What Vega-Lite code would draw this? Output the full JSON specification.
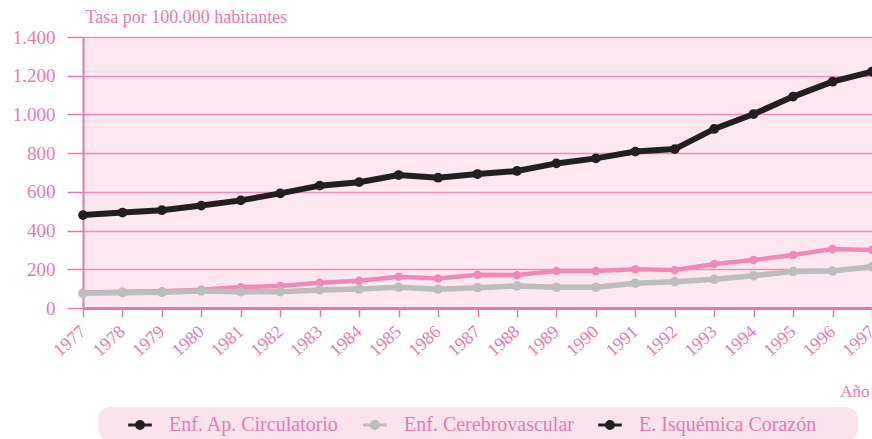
{
  "$schema": "https://vega.github.io/schema/vega-lite/v6.json",
  "autosize": {"type": "none"},
  "padding": {"left": 83, "top": 37, "right": 0, "bottom": 131},
  "width": 789,
  "height": 271,
  "background": "#ffffff",
  "datasets": {
    "tasas": [
      {"anio": 1977, "serie": "Enf. Ap. Circulatorio", "tasa": 480},
      {"anio": 1978, "serie": "Enf. Ap. Circulatorio", "tasa": 493},
      {"anio": 1979, "serie": "Enf. Ap. Circulatorio", "tasa": 505},
      {"anio": 1980, "serie": "Enf. Ap. Circulatorio", "tasa": 529},
      {"anio": 1981, "serie": "Enf. Ap. Circulatorio", "tasa": 556},
      {"anio": 1982, "serie": "Enf. Ap. Circulatorio", "tasa": 592},
      {"anio": 1983, "serie": "Enf. Ap. Circulatorio", "tasa": 632},
      {"anio": 1984, "serie": "Enf. Ap. Circulatorio", "tasa": 650},
      {"anio": 1985, "serie": "Enf. Ap. Circulatorio", "tasa": 687},
      {"anio": 1986, "serie": "Enf. Ap. Circulatorio", "tasa": 673},
      {"anio": 1987, "serie": "Enf. Ap. Circulatorio", "tasa": 692},
      {"anio": 1988, "serie": "Enf. Ap. Circulatorio", "tasa": 708},
      {"anio": 1989, "serie": "Enf. Ap. Circulatorio", "tasa": 747},
      {"anio": 1990, "serie": "Enf. Ap. Circulatorio", "tasa": 773},
      {"anio": 1991, "serie": "Enf. Ap. Circulatorio", "tasa": 808},
      {"anio": 1992, "serie": "Enf. Ap. Circulatorio", "tasa": 821},
      {"anio": 1993, "serie": "Enf. Ap. Circulatorio", "tasa": 925},
      {"anio": 1994, "serie": "Enf. Ap. Circulatorio", "tasa": 1002},
      {"anio": 1995, "serie": "Enf. Ap. Circulatorio", "tasa": 1092},
      {"anio": 1996, "serie": "Enf. Ap. Circulatorio", "tasa": 1169},
      {"anio": 1997, "serie": "Enf. Ap. Circulatorio", "tasa": 1221},
      {"anio": 1977, "serie": "Enf. Cerebrovascular", "tasa": 76},
      {"anio": 1978, "serie": "Enf. Cerebrovascular", "tasa": 79},
      {"anio": 1979, "serie": "Enf. Cerebrovascular", "tasa": 81},
      {"anio": 1980, "serie": "Enf. Cerebrovascular", "tasa": 88},
      {"anio": 1981, "serie": "Enf. Cerebrovascular", "tasa": 84},
      {"anio": 1982, "serie": "Enf. Cerebrovascular", "tasa": 84},
      {"anio": 1983, "serie": "Enf. Cerebrovascular", "tasa": 93},
      {"anio": 1984, "serie": "Enf. Cerebrovascular", "tasa": 98},
      {"anio": 1985, "serie": "Enf. Cerebrovascular", "tasa": 107},
      {"anio": 1986, "serie": "Enf. Cerebrovascular", "tasa": 97},
      {"anio": 1987, "serie": "Enf. Cerebrovascular", "tasa": 105},
      {"anio": 1988, "serie": "Enf. Cerebrovascular", "tasa": 114},
      {"anio": 1989, "serie": "Enf. Cerebrovascular", "tasa": 107},
      {"anio": 1990, "serie": "Enf. Cerebrovascular", "tasa": 107},
      {"anio": 1991, "serie": "Enf. Cerebrovascular", "tasa": 128},
      {"anio": 1992, "serie": "Enf. Cerebrovascular", "tasa": 136},
      {"anio": 1993, "serie": "Enf. Cerebrovascular", "tasa": 148},
      {"anio": 1994, "serie": "Enf. Cerebrovascular", "tasa": 167},
      {"anio": 1995, "serie": "Enf. Cerebrovascular", "tasa": 188},
      {"anio": 1996, "serie": "Enf. Cerebrovascular", "tasa": 191},
      {"anio": 1997, "serie": "Enf. Cerebrovascular", "tasa": 213},
      {"anio": 1977, "serie": "E. Isquémica Corazón", "tasa": 80},
      {"anio": 1978, "serie": "E. Isquémica Corazón", "tasa": 84},
      {"anio": 1979, "serie": "E. Isquémica Corazón", "tasa": 87},
      {"anio": 1980, "serie": "E. Isquémica Corazón", "tasa": 94},
      {"anio": 1981, "serie": "E. Isquémica Corazón", "tasa": 108},
      {"anio": 1982, "serie": "E. Isquémica Corazón", "tasa": 114},
      {"anio": 1983, "serie": "E. Isquémica Corazón", "tasa": 131},
      {"anio": 1984, "serie": "E. Isquémica Corazón", "tasa": 141},
      {"anio": 1985, "serie": "E. Isquémica Corazón", "tasa": 162},
      {"anio": 1986, "serie": "E. Isquémica Corazón", "tasa": 153},
      {"anio": 1987, "serie": "E. Isquémica Corazón", "tasa": 172},
      {"anio": 1988, "serie": "E. Isquémica Corazón", "tasa": 170},
      {"anio": 1989, "serie": "E. Isquémica Corazón", "tasa": 191},
      {"anio": 1990, "serie": "E. Isquémica Corazón", "tasa": 191},
      {"anio": 1991, "serie": "E. Isquémica Corazón", "tasa": 200},
      {"anio": 1992, "serie": "E. Isquémica Corazón", "tasa": 196},
      {"anio": 1993, "serie": "E. Isquémica Corazón", "tasa": 227},
      {"anio": 1994, "serie": "E. Isquémica Corazón", "tasa": 248},
      {"anio": 1995, "serie": "E. Isquémica Corazón", "tasa": 274},
      {"anio": 1996, "serie": "E. Isquémica Corazón", "tasa": 305},
      {"anio": 1997, "serie": "E. Isquémica Corazón", "tasa": 300}
    ]
  },
  "data": {"name": "tasas"},
  "encoding": {
    "x": {
      "field": "anio", "type": "quantitative",
      "scale": {"domain": [1977, 1997], "nice": false, "zero": false},
      "axis": {
        "values": [1977,1978,1979,1980,1981,1982,1983,1984,1985,1986,1987,1988,1989,1990,1991,1992,1993,1994,1995,1996,1997],
        "format": "d",
        "labelAngle": -42,
        "labelAlign": "right",
        "labelBaseline": "middle",
        "labelPadding": 12,
        "labelFontSize": 18,
        "tickSize": 9,
        "domainWidth": 3,
        "grid": false,
        "title": "Año",
        "titleAnchor": "end",
        "titleAlign": "right",
        "titleX": 786,
        "titleY": 75,
        "titleFontSize": 17,
        "titleFontWeight": "normal"
      }
    },
    "y": {
      "field": "tasa", "type": "quantitative",
      "scale": {"domain": [0, 1400], "nice": false},
      "axis": {
        "values": [0, 200, 400, 600, 800, 1000, 1200, 1400],
        "labelExpr": "replace(format(datum.value, ','), ',', '.')",
        "labelFontSize": 19,
        "labelPadding": 12,
        "tickSize": 16,
        "domainWidth": 2,
        "grid": true,
        "gridColor": "#e98fbd",
        "gridWidth": 1.6,
        "title": "Tasa por 100.000 habitantes",
        "titleAngle": 0,
        "titleAlign": "left",
        "titleBaseline": "alphabetic",
        "titleX": 2,
        "titleY": -15,
        "titleFontSize": 18,
        "titleFontWeight": "normal"
      }
    }
  },
  "layer": [
    {
      "transform": [{"filter": "datum.serie == 'E. Isquémica Corazón'"}],
      "mark": {"type": "line", "strokeWidth": 4.5, "color": "#ef89b8"}
    },
    {
      "transform": [{"filter": "datum.serie == 'E. Isquémica Corazón'"}],
      "mark": {"type": "point", "filled": true, "opacity": 1, "size": 70, "color": "#ef89b8"}
    },
    {
      "transform": [{"filter": "datum.serie == 'Enf. Cerebrovascular'"}],
      "mark": {"type": "line", "strokeWidth": 5.5, "color": "#bdbdbd"}
    },
    {
      "transform": [{"filter": "datum.serie == 'Enf. Cerebrovascular'"}],
      "mark": {"type": "point", "filled": true, "opacity": 1, "size": 90, "color": "#bdbdbd"}
    },
    {
      "transform": [{"filter": "datum.serie == 'Enf. Ap. Circulatorio'"}],
      "mark": {"type": "line", "strokeWidth": 6, "color": "#231f20"}
    },
    {
      "transform": [{"filter": "datum.serie == 'Enf. Ap. Circulatorio'"}],
      "mark": {"type": "point", "filled": true, "opacity": 1, "size": 95, "color": "#231f20"}
    },
    {
      "transform": [{"filter": "false"}],
      "mark": {"type": "point", "filled": true, "opacity": 1},
      "encoding": {
        "fill": {
          "field": "serie", "type": "nominal",
          "scale": {
            "domain": ["Enf. Ap. Circulatorio", "Enf. Cerebrovascular", "E. Isquémica Corazón"],
            "range": ["#231f20", "#bdbdbd", "#231f20"]
          },
          "legend": {
            "orient": "none",
            "legendX": 15,
            "legendY": 370,
            "direction": "horizontal",
            "title": "\u2003",
            "titleOrient": "right",
            "titlePadding": 36,
            "titleFontSize": 19,
            "fillColor": "#fbe3ee",
            "cornerRadius": 12,
            "padding": 6,
            "symbolOffset": 24,
            "symbolType": "M-1,-0.13L1,-0.13L1,0.13L-1,0.13Z M0.42,0A0.42,0.42,0,1,1,-0.42,0A0.42,0.42,0,1,1,0.42,0Z",
            "symbolSize": 560,
            "symbolOpacity": 1,
            "symbolStrokeWidth": 0,
            "labelFontSize": 20,
            "labelLimit": 400,
            "labelColor": "#e37db1",
            "labelOffset": 17,
            "columnPadding": -6
          }
        }
      }
    }
  ],
  "config": {
    "font": "Liberation Serif",
    "view": {"fill": "#fde7f0", "stroke": null},
    "axis": {
      "domainColor": "#e07ab0",
      "tickColor": "#e07ab0",
      "tickWidth": 1.5,
      "labelColor": "#e37db1",
      "titleColor": "#e37db1",
      "labelFont": "Liberation Serif",
      "titleFont": "Liberation Serif"
    },
    "legend": {"labelFont": "Liberation Serif", "titleFont": "Liberation Serif", "titleColor": "#e37db1"}
  }
}
